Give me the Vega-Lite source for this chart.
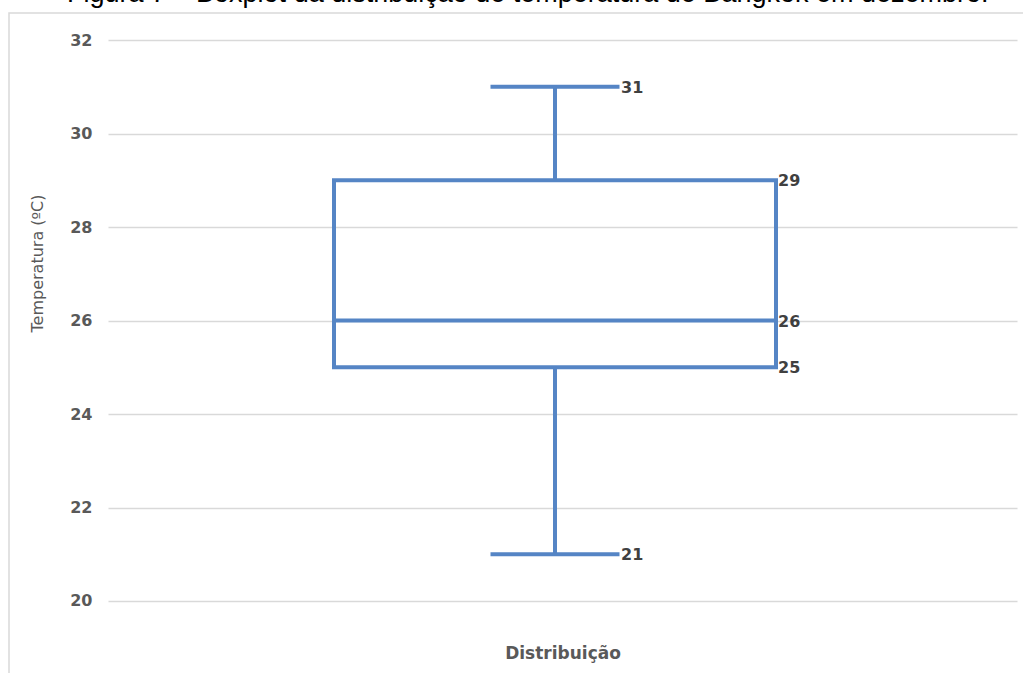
{
  "$schema": "https://vega.github.io/schema/vega-lite/v6.json",
  "autosize": {"type": "none"},
  "padding": {"left": 9, "top": 13, "right": 0, "bottom": 0},
  "width": 1024,
  "height": 662,
  "background": "white",
  "config": {
    "view": {"stroke": "#d9d9d9", "strokeWidth": 1.5},
    "font": "DejaVu Sans"
  },
  "title": {
    "text": "Figura 7 – Boxplot da distribuição de temperatura de Bangkok em dezembro.",
    "font": "Liberation Sans",
    "fontSize": 27,
    "fontWeight": "normal",
    "color": "#000000",
    "anchor": "start",
    "frame": "group",
    "baseline": "alphabetic",
    "offset": 6,
    "dx": 58,
    "dy": 22
  },
  "data": {
    "values": [
      {"categoria": "Distribuição", "min": 21, "q1": 25, "median": 26, "q3": 29, "max": 31}
    ]
  },
  "encoding": {
    "x": {
      "field": "categoria",
      "type": "nominal",
      "scale": {"range": [99, 1008], "paddingInner": 0, "paddingOuter": 0.5, "align": 0.4835},
      "axis": {
        "title": "Distribuição",
        "labels": false,
        "ticks": false,
        "domain": false,
        "titleFont": "DejaVu Sans",
        "titleFontSize": 17,
        "titleFontWeight": "bold",
        "titleColor": "#595959",
        "titleY": -22,
        "titleBaseline": "middle"
      }
    }
  },
  "layer": [
    {
      "mark": {"type": "bar", "size": 442, "fill": "transparent", "stroke": "#5585c5", "strokeWidth": 4},
      "encoding": {
        "y": {
          "field": "q1",
          "type": "quantitative",
          "scale": {"domain": [18.417, 32.578], "nice": false, "zero": false},
          "axis": {
            "title": "Temperatura (ºC)",
            "values": [20, 22, 24, 26, 28, 30, 32],
            "grid": true,
            "gridColor": "#d9d9d9",
            "gridWidth": 1.5,
            "domain": false,
            "ticks": false,
            "offset": -83,
            "labelPadding": 0,
            "labelFont": "DejaVu Sans",
            "labelFontSize": 16,
            "labelFontWeight": "bold",
            "labelColor": "#595959",
            "titleFont": "DejaVu Sans",
            "titleFontSize": 16,
            "titleFontWeight": "normal",
            "titleColor": "#595959",
            "titleX": -55,
            "titleY": 250,
            "titleAngle": 270,
            "titleAlign": "center",
            "titleBaseline": "middle"
          }
        },
        "y2": {"field": "q3"}
      }
    },
    {
      "mark": {"type": "rule", "stroke": "#5585c5", "strokeWidth": 4},
      "encoding": {"y": {"field": "q3", "type": "quantitative"}, "y2": {"field": "max"}}
    },
    {
      "mark": {"type": "rule", "stroke": "#5585c5", "strokeWidth": 4},
      "encoding": {"y": {"field": "min", "type": "quantitative"}, "y2": {"field": "q1"}}
    },
    {
      "mark": {"type": "tick", "size": 442, "thickness": 4, "color": "#5585c5", "opacity": 1},
      "encoding": {"y": {"field": "median", "type": "quantitative"}}
    },
    {
      "mark": {"type": "tick", "size": 129, "thickness": 4, "color": "#5585c5", "opacity": 1},
      "encoding": {"y": {"field": "max", "type": "quantitative"}}
    },
    {
      "mark": {"type": "tick", "size": 129, "thickness": 4, "color": "#5585c5", "opacity": 1},
      "encoding": {"y": {"field": "min", "type": "quantitative"}}
    },
    {
      "transform": [{"fold": ["max", "min"], "as": ["estatistica", "valor"]}],
      "mark": {"type": "text", "align": "left", "baseline": "middle", "dx": 66, "dy": 1, "font": "DejaVu Sans", "fontSize": 16, "fontWeight": "bold", "color": "#404040"},
      "encoding": {"y": {"field": "valor", "type": "quantitative"}, "text": {"field": "valor", "type": "quantitative"}}
    },
    {
      "transform": [{"fold": ["q3", "median", "q1"], "as": ["estatistica", "valor"]}],
      "mark": {"type": "text", "align": "left", "baseline": "middle", "dx": 223, "dy": 1, "font": "DejaVu Sans", "fontSize": 16, "fontWeight": "bold", "color": "#404040"},
      "encoding": {"y": {"field": "valor", "type": "quantitative"}, "text": {"field": "valor", "type": "quantitative"}}
    }
  ]
}
